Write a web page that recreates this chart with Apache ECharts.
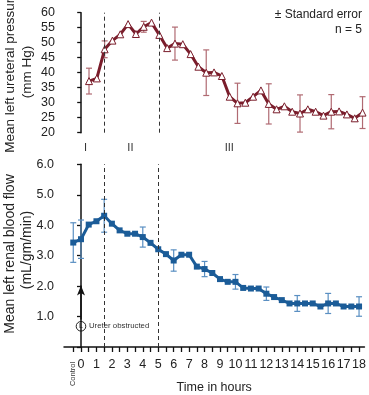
<!DOCTYPE html>
<html>
<head>
<meta charset="utf-8">
<script src="https://cdn.jsdelivr.net/npm/echarts@6/dist/echarts.min.js"></script>
<style>html,body{margin:0;padding:0;background:#fff}#c{width:369px;height:395px}</style>
</head>
<body>
<div id="c"></div>
<script>
// ---- Data ----
var pressureHours = [0.5,1,1.5,2,2.5,3,3.5,4,4.5,5,5.5,6,6.5,7,7.5,8,8.5,9,9.5,10,10.5,11,11.5,12,12.5,13,13.5,14,14.5,15,15.5,16,16.5,17,17.5,18];
var pressure = [37.2,38.1,47.8,50.7,52.8,56.2,52.9,55.3,56.7,52.6,48.2,49.7,49.5,46.2,42.0,40.0,40.1,38.9,32.0,29.8,30.0,32.0,34.1,29.6,27.8,28.8,27.0,26.4,27.8,27.0,25.7,27.0,27.1,26.1,24.8,26.7];
var pressureErrHours = [0.5,1.5,4,6,8,10,12,14,16,18];
var pressureErr = [4.3,2.8,1.8,5.5,7.6,6.7,6.7,6.2,5.7,5.3];

var flowHours = [-0.5,0,0.5,1,1.5,2,2.5,3,3.5,4,4.5,5,5.5,6,6.5,7,7.5,8,8.5,9,9.5,10,10.5,11,11.5,12,12.5,13,13.5,14,14.5,15,15.5,16,16.5,17,17.5,18];
var flow = [3.43,3.54,4.02,4.13,4.31,4.05,3.83,3.72,3.72,3.61,3.42,3.21,3.05,2.84,3.03,3.03,2.64,2.56,2.43,2.23,2.14,2.14,1.94,1.92,1.92,1.75,1.64,1.54,1.43,1.43,1.43,1.43,1.33,1.43,1.43,1.33,1.33,1.33];
var flowErrHours = [-0.5,0,1.5,4,6,8,10,12,14,16,18];
var flowErr = [0.65,0.63,0.54,0.33,0.35,0.25,0.24,0.22,0.26,0.33,0.32];

var tickHours = [-0.5,0,0.5,1,1.5,2,2.5,3,3.5,4,4.5,5,5.5,6,6.5,7,7.5,8,8.5,9,9.5,10,10.5,11,11.5,12,12.5,13,13.5,14,14.5,15,15.5,16,16.5,17,17.5,18];
var labelHours = [0,1,2,3,4,5,6,7,8,9,10,11,12,13,14,15,16,17,18];
var phaseBoundaries = [1.5, 5];
var phaseLabels = ['I','II','III'];
var phaseLabelHours = [0.3, 3.2, 9.6];

// ---- Build ----
var FONT = '"Liberation Sans", Arial, Helvetica, sans-serif';
var RED = '#7a1d2b', RED_ERR = '#b06a72';
var BLUE = '#1b5c98', BLUE_ERR = '#5a8fc2';

function pairs(xs, ys){ return xs.map(function(x,i){ return [x, ys[i]]; }); }
function errData(hours, errs, xs, ys){
  return hours.map(function(h,i){ var k = xs.indexOf(h); return [h, ys[k], errs[i]]; });
}
function errRender(color){
  return function(params, api){
    var x = api.value(0), m = api.value(1), e = api.value(2);
    var hi = api.coord([x, m + e]), lo = api.coord([x, m - e]);
    var w = 3;
    var st = {stroke: color, lineWidth: 1.2};
    return {type:'group', children:[
      {type:'line', shape:{x1:hi[0],y1:hi[1],x2:lo[0],y2:lo[1]}, style:st},
      {type:'line', shape:{x1:hi[0]-w,y1:hi[1],x2:hi[0]+w,y2:hi[1]}, style:st},
      {type:'line', shape:{x1:lo[0]-w,y1:lo[1],x2:lo[0]+w,y2:lo[1]}, style:st}
    ]};
  };
}
var dashedML = {
  silent: true, symbol: ['none','none'], label:{show:false},
  lineStyle:{type:[4,3], color:'#333', width:1},
  data: phaseBoundaries.map(function(b){ return {xAxis:b}; })
};

var chart = echarts.init(document.getElementById('c'), null, {renderer:'canvas'});
var option = {
  animation: false,
  textStyle: {fontFamily: FONT},
  grid: [
    {left:64, right:1, top:12.7, height:120},
    {left:64, right:1, top:164.3, height:185.7}
  ],
  xAxis: [
    {gridIndex:0, type:'value', min:-1.1, max:18.35, show:false},
    {gridIndex:1, type:'value', min:-1.1, max:18.35,
      axisLine:{show:true, lineStyle:{color:'#111', width:1.5}},
      axisTick:{show:true, customValues: tickHours, length:5, lineStyle:{color:'#111', width:1.3}},
      axisLabel:{customValues: labelHours, fontSize:12.5, color:'#222', margin:11, fontFamily:FONT},
      splitLine:{show:false},
      name:'Time in hours', nameLocation:'middle', nameGap:34,
      nameTextStyle:{fontSize:12.5, color:'#222', fontFamily:FONT}
    }
  ],
  yAxis: [
    {gridIndex:0, type:'value', min:20, max:60, interval:5,
      axisLine:{show:true, lineStyle:{color:'#111', width:1.5}},
      axisTick:{show:true, length:4, lineStyle:{color:'#111', width:1.3}},
      axisLabel:{fontSize:12.5, color:'#222', margin:9, fontFamily:FONT},
      splitLine:{show:false}
    },
    {gridIndex:1, type:'value', min:0, max:6, interval:1,
      axisLine:{show:true, lineStyle:{color:'#111', width:1.5}},
      axisTick:{show:true, length:4, lineStyle:{color:'#111', width:1.3}},
      axisLabel:{fontSize:12.5, color:'#222', margin:10, fontFamily:FONT,
        formatter:function(v){ return v === 0 ? '' : v.toFixed(1); }},
      splitLine:{show:false}
    }
  ],
  series: [
    {type:'custom', xAxisIndex:0, yAxisIndex:0, z:1,
      data: errData(pressureErrHours, pressureErr, pressureHours, pressure),
      renderItem: errRender(RED_ERR), clip:false},
    {type:'line', xAxisIndex:0, yAxisIndex:0, z:3,
      data: pairs(pressureHours, pressure),
      symbol:'triangle', symbolSize:7, showAllSymbol:true,
      lineStyle:{color:RED, width:3},
      itemStyle:{color:'#fff', borderColor:RED, borderWidth:1},
      markLine: dashedML},
    {type:'custom', xAxisIndex:1, yAxisIndex:1, z:1,
      data: errData(flowErrHours, flowErr, flowHours, flow),
      renderItem: errRender(BLUE_ERR), clip:false,
      markLine:{silent:true, label:{show:false}, symbol:['none','arrow'], symbolSize:[6,10],
        lineStyle:{type:'solid', color:'#111', width:1.5},
        data:[[{coord:[0,0.9]},{coord:[0,2.02]}]]}},
    {type:'line', xAxisIndex:1, yAxisIndex:1, z:3,
      data: pairs(flowHours, flow),
      symbol:'rect', symbolSize:6, showAllSymbol:true,
      lineStyle:{color:BLUE, width:3},
      itemStyle:{color:BLUE},
      markLine: dashedML}
  ]
};
chart.setOption(option);

// Annotations positioned through the axes' scales
var g = [];
var circ = chart.convertToPixel({xAxisIndex:1, yAxisIndex:1}, [0, 0.68]);
g.push({type:'circle', shape:{cx:circ[0], cy:circ[1], r:4.8}, style:{fill:'none', stroke:'#222', lineWidth:1}});
g.push({type:'text', x:circ[0], y:circ[1], style:{text:'L', fontSize:7, fontFamily:FONT, fill:'#222', align:'center', verticalAlign:'middle'}});
g.push({type:'text', x:circ[0]+8, y:circ[1], style:{text:'Ureter obstructed', fontSize:7.8, fontFamily:FONT, fill:'#333', align:'left', verticalAlign:'middle'}});
var ctl = chart.convertToPixel({xAxisIndex:1, yAxisIndex:1}, [-0.5, 0]);
g.push({type:'text', x:ctl[0], y:374, rotation:Math.PI/2, style:{text:'Control', fontSize:7.5, fontFamily:FONT, fill:'#333', align:'center', verticalAlign:'middle'}});
phaseLabels.forEach(function(t,i){
  var p = chart.convertToPixel({xAxisIndex:1, yAxisIndex:1}, [phaseLabelHours[i], 0]);
  g.push({type:'text', x:p[0], y:148, style:{text:t, fontSize:11, fontFamily:FONT, fill:'#333', align:'center', verticalAlign:'middle'}});
});
g.push({type:'text', x:362, y:15, style:{text:'\u00B1 Standard error', fontSize:12, fontFamily:FONT, fill:'#222', align:'right', verticalAlign:'middle'}});
g.push({type:'text', x:362, y:30, style:{text:'n = 5', fontSize:12, fontFamily:FONT, fill:'#222', align:'right', verticalAlign:'middle'}});
// Axis titles
g.push({type:'text', x:10, y:72, rotation:Math.PI/2, style:{text:'Mean left ureteral pressure', fontSize:13.5, fontFamily:FONT, fill:'#222', align:'center', verticalAlign:'middle'}});
g.push({type:'text', x:27, y:72, rotation:Math.PI/2, style:{text:'(mm Hg)', fontSize:13.5, fontFamily:FONT, fill:'#222', align:'center', verticalAlign:'middle'}});
g.push({type:'text', x:10, y:254, rotation:Math.PI/2, style:{text:'Mean left renal blood flow', fontSize:14, fontFamily:FONT, fill:'#222', align:'center', verticalAlign:'middle'}});
g.push({type:'text', x:27, y:250, rotation:Math.PI/2, style:{text:'(mL/gm/min)', fontSize:14, fontFamily:FONT, fill:'#222', align:'center', verticalAlign:'middle'}});
chart.setOption({graphic: g});
</script>
</body>
</html>
